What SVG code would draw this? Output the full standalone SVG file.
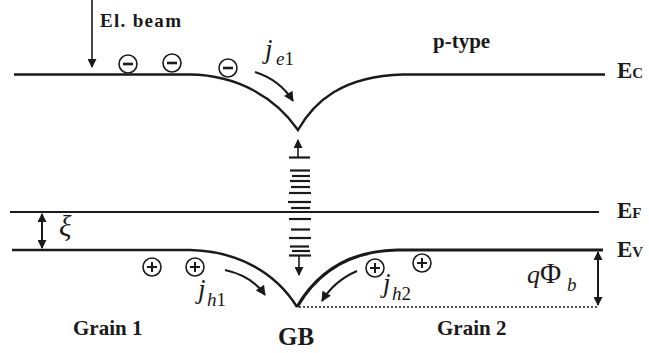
<svg xmlns="http://www.w3.org/2000/svg" width="649" height="353" viewBox="0 0 649 353">
<style>
.band{fill:none;stroke:#1a1a1a;stroke-width:2.4}
.thin{fill:none;stroke:#1a1a1a;stroke-width:1.8}
.arr{fill:none;stroke:#1a1a1a;stroke-width:1.6}
.carr{fill:none;stroke:#1a1a1a;stroke-width:2}
.dash{stroke:#1a1a1a;stroke-width:2.2}
.chg{fill:none;stroke:#1a1a1a;stroke-width:1.6}
.lbl{font-weight:bold;fill:#1a1a1a}
.math{fill:#1a1a1a}
</style>
<defs>
<marker id="ah" viewBox="0 0 10 10" refX="9" refY="5" markerUnits="userSpaceOnUse" markerWidth="10" markerHeight="9" orient="auto-start-reverse">
<path d="M0,0 L10,5 L0,10 z" fill="#1a1a1a"/>
</marker>
<marker id="ahc" viewBox="0 0 10 10" refX="9" refY="5" markerUnits="userSpaceOnUse" markerWidth="12" markerHeight="10" orient="auto">
<path d="M0,0 L10,5 L0,10 z" fill="#1a1a1a"/>
</marker>
</defs>

<g id="bands">
<path id="Ec" class="band" d="M14,74.5 L190,74.5 C238,75 276,98 298,130 C314,102 342,76 403,74.5 L605,74.5"/>
<path id="Ef" class="thin" d="M10,212 L599,212"/>
<path id="Ev-left" class="band" d="M12,250 L190,250 C238,251 276,273 297,307"/>
<path id="Ev-right" class="band" style="stroke-width:3.2" d="M297,307 C315,276 345,251 397,250 L603,250"/>
<path id="baseline" fill="none" stroke="#1a1a1a" stroke-width="1.6" stroke-dasharray="2,2" d="M299,307 L598,307"/>
</g>

<g id="traps">
<line class="dash" x1="289" y1="157.5" x2="310" y2="157.5"/>
<line class="dash" x1="290" y1="170.5" x2="310" y2="170.5"/>
<line class="dash" x1="292" y1="176" x2="310" y2="176"/>
<line class="dash" x1="290" y1="181" x2="310" y2="181"/>
<line class="dash" x1="291" y1="187" x2="310" y2="187"/>
<line class="dash" x1="289" y1="193" x2="311" y2="193"/>
<line class="dash" x1="288" y1="202" x2="311" y2="202"/>
<line class="dash" x1="291" y1="208" x2="310" y2="208"/>
<line class="dash" x1="289" y1="219" x2="311" y2="219"/>
<line class="dash" x1="291" y1="229.5" x2="310" y2="229.5"/>
<line class="dash" x1="289" y1="238" x2="311" y2="238"/>
<line class="dash" x1="290" y1="246.5" x2="309" y2="246.5"/>
<line class="dash" x1="292" y1="251" x2="310" y2="251"/>
<line class="dash" x1="289" y1="255.5" x2="311" y2="255.5"/>
</g>

<g id="connectors">
<line class="arr" x1="92" y1="0" x2="92" y2="67" marker-end="url(#ah)"/>
<line class="arr" x1="298" y1="157" x2="298" y2="140" marker-end="url(#ah)"/>
<line class="arr" x1="299" y1="256" x2="299" y2="275" marker-end="url(#ah)"/>
<line class="carr" x1="42" y1="214" x2="42" y2="248" marker-start="url(#ah)" marker-end="url(#ah)"/>
<line class="carr" x1="598" y1="252" x2="598" y2="305" marker-start="url(#ah)" marker-end="url(#ah)"/>
<path class="carr" d="M255,72 Q280,80 293,101" marker-end="url(#ahc)"/>
<path class="carr" d="M225,270 Q252,276 265,295" marker-end="url(#ahc)"/>
<path class="carr" d="M357,271 Q334,281 322,301" marker-end="url(#ahc)"/>
</g>

<g id="electrons">
<g class="chg"><circle cx="128" cy="64" r="9"/><line x1="123" y1="64" x2="133" y2="64" stroke-width="2.6"/></g>
<g class="chg"><circle cx="172" cy="63" r="9"/><line x1="167" y1="63" x2="177" y2="63" stroke-width="2.6"/></g>
<g class="chg"><circle cx="228" cy="68" r="9"/><line x1="223" y1="68" x2="233" y2="68" stroke-width="2.6"/></g>
</g>

<g id="holes">
<g class="chg"><circle cx="152" cy="267" r="9"/><path d="M147,267 L157,267 M152,262 L152,272" stroke-width="2"/></g>
<g class="chg"><circle cx="195" cy="267" r="9"/><path d="M190,267 L200,267 M195,262 L195,272" stroke-width="2"/></g>
<g class="chg"><circle cx="375" cy="268" r="9"/><path d="M370,268 L380,268 M375,263 L375,273" stroke-width="2"/></g>
<g class="chg"><circle cx="422" cy="263" r="9"/><path d="M417,263 L427,263 M422,258 L422,268" stroke-width="2"/></g>
</g>

<g id="labels" font-family="'Liberation Serif', 'Times New Roman', serif">
<text class="lbl" x="100" y="27" font-size="19" textLength="81">El. beam</text>
<text class="lbl" x="433" y="48" font-size="21">p-type</text>
<text class="lbl" x="617" y="78" font-size="23">E<tspan font-size="15">C</tspan></text>
<text class="lbl" x="617" y="218" font-size="23">E<tspan font-size="15">F</tspan></text>
<text class="lbl" x="617" y="257" font-size="23">E<tspan font-size="15">V</tspan></text>
<text class="lbl" x="73" y="335" font-size="21">Grain 1</text>
<text class="lbl" x="437" y="335" font-size="21">Grain 2</text>
<text class="lbl" x="278" y="345" font-size="25">GB</text>
<text class="math" x="59" y="236" font-size="29" font-style="italic">ξ</text>
<text class="math" x="265" y="58" font-size="27" font-style="italic">j</text>
<text class="math" x="276" y="65" font-size="19"><tspan font-style="italic">e</tspan>1</text>
<text class="math" x="198" y="298" font-size="27" font-style="italic">j</text>
<text class="math" x="207" y="306" font-size="19"><tspan font-style="italic">h</tspan>1</text>
<text class="math" x="383" y="292" font-size="27" font-style="italic">j</text>
<text class="math" x="392" y="300" font-size="19"><tspan font-style="italic">h</tspan>2</text>
<text class="math" x="527" y="283" font-size="26"><tspan font-style="italic">q</tspan><tspan font-size="29">Φ</tspan></text>
<text class="math" x="567" y="291" font-size="19" font-style="italic">b</text>
</g>
</svg>
